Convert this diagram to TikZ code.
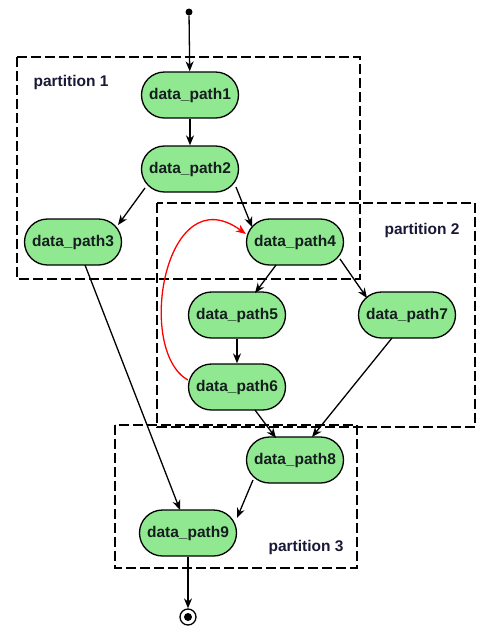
\documentclass[tikz,border=0pt]{standalone}
\usepackage{fontspec}
\setmainfont{Liberation Sans}
\usetikzlibrary{arrows.meta,calc}
\definecolor{nodegreen}{RGB}{144,232,144}
\definecolor{labelblue}{RGB}{25,25,55}
\definecolor{textdark}{RGB}{20,30,30}
\begin{document}
\begin{tikzpicture}[x=1pt,y=-1pt,
  dp/.style={draw=black, line width=1.3pt, fill=nodegreen, rounded corners=23pt,
    minimum width=97pt, minimum height=46pt, inner sep=0pt, text=textdark,
    font=\fontsize{15.5}{17}\selectfont\bfseries},
  part/.style={draw=black, line width=1.3pt, dash pattern=on 10pt off 4pt},
  plabel/.style={text=labelblue, font=\fontsize{15.5}{17}\selectfont\bfseries},
  conn/.style={draw=black, line width=1.3pt, -{Stealth[length=10pt,width=8pt]}}]
\useasboundingbox (0,0) rectangle (477,630);
% partitions
\draw[part] (17,57) rectangle (360,279);
\draw[part] (157,203) rectangle (475,427);
\draw[part] (115,425) rectangle (357,568);
\node[plabel] (p1) at (71,82) {partition 1};
\node[plabel] (p2) at (422,230) {partition 2};
\node[plabel] (p3) at (306,547) {partition 3};
% nodes
\node[dp] (dp1) at (190,95) {data\_path1};
\node[dp] (dp2) at (190,169) {data\_path2};
\node[dp] (dp3) at (73,242) {data\_path3};
\node[dp] (dp4) at (295,242) {data\_path4};
\node[dp] (dp5) at (237,315) {data\_path5};
\node[dp] (dp7) at (407,315) {data\_path7};
\node[dp] (dp6) at (237,387) {data\_path6};
\node[dp] (dp8) at (295,460) {data\_path8};
\node[dp] (dp9) at (188,533) {data\_path9};
\node[circle, fill=black, minimum size=7pt, inner sep=0pt] (start) at (189,12) {};
\node[circle, draw=black, line width=1.3pt, minimum size=16pt, inner sep=0pt] (end) at (188,617) {};
\node[circle, fill=black, minimum size=8pt, inner sep=0pt] (endin) at (end) {};
% connectors
\draw[conn] (start) -- (dp1);
\draw[conn] (dp1) -- (dp2);
\draw[conn] ($(dp2.center)+(-45,19)$) -- ($(dp3.center)+(45,-17)$);
\draw[conn] ($(dp2.center)+(46,18)$) -- ($(dp4.center)+(-43,-15)$);
\draw[conn] ($(dp4.center)+(-19,23)$) -- ($(dp5.center)+(18,-22)$);
\draw[conn] ($(dp4.center)+(45,17)$) -- ($(dp7.center)+(-40,-17)$);
\draw[conn] (dp5) -- (dp6);
\draw[conn] ($(dp6.center)+(18,23)$) -- ($(dp8.center)+(-19,-22)$);
\draw[conn] ($(dp7.center)+(-15,23)$) -- ($(dp8.center)+(17,-23)$);
\draw[conn] ($(dp3.center)+(12,23)$) -- ($(dp9.center)+(-8,-23)$);
\draw[conn] ($(dp8.center)+(-42,20)$) -- ($(dp9.center)+(49,-15)$);
\draw[conn] (dp9) -- (end);
\draw[red, line width=1.3pt, -{Stealth[length=10pt,width=8pt]}]
  ($(dp6.west)+(0,-7)$) .. controls (135,350) and (165,175) .. ($(dp4.west)+(0,-8)$);
\end{tikzpicture}
\end{document}
